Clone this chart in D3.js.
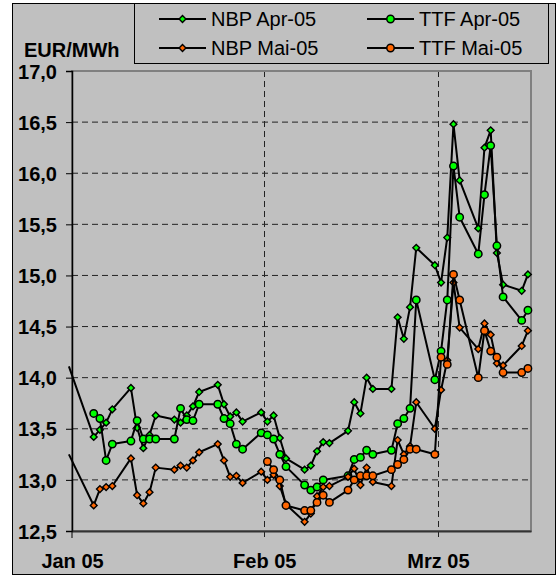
<!DOCTYPE html>
<html><head><meta charset="utf-8">
<script src="https://cdn.jsdelivr.net/npm/d3@7"></script>
<style>body{margin:0;background:#fff} svg{display:block}</style>
</head><body>
<svg id="c" width="560" height="579"></svg>
<script>
// ---- data ----
const dates = ["2004-12-31",
 "2005-01-04","2005-01-05","2005-01-06","2005-01-07","2005-01-10","2005-01-11","2005-01-12","2005-01-13","2005-01-14",
 "2005-01-17","2005-01-18","2005-01-19","2005-01-20","2005-01-21","2005-01-24","2005-01-25","2005-01-26","2005-01-27","2005-01-28","2005-01-31",
 "2005-02-01","2005-02-02","2005-02-03","2005-02-04","2005-02-07","2005-02-08","2005-02-09","2005-02-10","2005-02-11",
 "2005-02-14","2005-02-15","2005-02-16","2005-02-17","2005-02-18","2005-02-21","2005-02-22","2005-02-23","2005-02-24","2005-02-25","2005-02-28",
 "2005-03-01","2005-03-02","2005-03-03","2005-03-04","2005-03-07","2005-03-08","2005-03-09","2005-03-10","2005-03-11","2005-03-14","2005-03-15"];
const nbpApr = [14.11,
 13.42,13.49,13.56,13.69,13.90,13.51,13.31,13.44,13.63,13.59,13.56,13.63,13.72,13.86,13.93,13.74,13.62,13.66,13.57,13.66,
 13.57,13.63,13.41,13.21,13.10,13.14,13.28,13.37,13.36,13.48,13.76,13.65,14.00,13.89,13.89,14.59,14.38,14.69,15.27,15.10,
 14.93,15.37,16.48,15.93,15.46,16.25,16.42,15.22,14.91,14.85,15.01];
const ttfApr = [null,
 13.65,13.60,13.19,13.35,13.38,13.58,13.40,13.40,13.40,13.40,13.70,13.59,13.58,13.74,13.74,13.60,13.55,13.35,13.30,13.46,
 13.44,13.40,13.25,13.13,12.95,12.90,12.93,13.00,null,13.04,13.20,13.22,13.29,13.25,13.29,13.55,13.60,13.70,14.76,13.98,
 14.26,14.76,16.07,15.57,15.21,15.79,16.27,15.29,14.79,14.56,14.66];
const nbpMai = [13.25,
 12.75,12.91,12.93,12.94,13.21,12.85,12.77,12.88,13.12,13.10,13.14,13.12,13.19,13.27,13.35,13.19,13.03,13.04,12.97,13.08,
 13.00,13.05,12.94,12.76,12.59,12.67,12.84,12.93,12.94,13.03,13.11,12.95,13.12,12.98,12.94,13.39,13.25,13.33,13.76,13.50,
 13.88,14.17,14.93,14.49,14.28,14.53,14.42,14.14,14.12,14.31,14.46];
const ttfMai = [null,
 null,null,null,null,null,null,null,null,null,null,null,null,null,null,null,null,null,null,null,null,
 13.18,13.10,13.00,12.75,12.70,12.70,12.78,12.85,12.78,12.90,13.00,13.04,13.04,13.04,13.10,13.15,13.20,13.30,13.30,13.25,
 14.20,14.13,15.01,14.76,14.00,14.46,14.26,14.20,14.05,14.05,14.09];
const seriesNames = ["NBP Apr-05","TTF Apr-05","NBP Mai-05","TTF Mai-05"];
const seriesColors = ["#00ff00","#00ff00","#ff6600","#ff6600"];
const seriesMarkers = ["diamond","circle","diamond","circle"];
const xTickDates = ["2005-01-01","2005-02-01","2005-03-01"];
const xTickLabels = ["Jan 05","Feb 05","Mrz 05"];
const yTicks = [12.5,13.0,13.5,14.0,14.5,15.0,15.5,16.0,16.5,17.0];
const yTickLabels = ["12,5","13,0","13,5","14,0","14,5","15,0","15,5","16,0","16,5","17,0"];
const yUnit = "EUR/MWh";
const xDomain = ["2005-01-01","2005-03-16"];

// ---- drawing ----
const parse = d3.utcParse("%Y-%m-%d");
const svg = d3.select("#c");
const font = "'Liberation Sans', Arial, sans-serif";
const L = 72, R = 531, T = 71, B = 531;

svg.append("rect").attr("x",12.5).attr("y",3.5).attr("width",543).attr("height",571)
  .attr("fill","#c0c0c0").attr("stroke","#000").attr("stroke-width",1);

const x = d3.scaleUtc().domain(xDomain.map(parse)).range([L,R]);
const y = d3.scaleLinear().domain([12.5,17]).range([B,T]);
const mid = d => x(d3.utcHour.offset(d,12));

// horizontal gridlines
svg.append("g").selectAll("line").data(yTicks.slice(1,-1)).join("line")
  .attr("x1",L).attr("x2",R).attr("y1",d=>y(d)).attr("y2",d=>y(d))
  .attr("stroke","#222").attr("stroke-width",1).attr("stroke-dasharray","6,4");
// vertical gridlines (with tick extension)
svg.append("g").selectAll("line").data(xTickDates.slice(1).map(parse)).join("line")
  .attr("x1",d=>Math.round(x(d))+0.5).attr("x2",d=>Math.round(x(d))+0.5).attr("y1",T).attr("y2",B+7)
  .attr("stroke","#222").attr("stroke-width",1).attr("stroke-dasharray","6,4");

// plot border
svg.append("rect").attr("x",L).attr("y",T).attr("width",R-L).attr("height",B-T)
  .attr("fill","none").attr("stroke","#808080").attr("stroke-width",2);

// axes
const yAxis = d3.axisLeft(y).tickValues(yTicks).tickSize(6).tickFormat((d,i)=>yTickLabels[i]);
const gy = svg.append("g").attr("transform",`translate(${L},0)`).call(yAxis);
gy.select(".domain").attr("stroke","#000").attr("stroke-width",1.5);
gy.selectAll(".tick line").attr("stroke","#000").attr("stroke-width",1);
gy.selectAll("text").attr("x",-15).attr("dy","0.36em").attr("fill","#000")
  .style("font-family",font).style("font-size","20px").style("font-weight","bold");

const xAxis = d3.axisBottom(x).tickValues(xTickDates.map(parse)).tickSize(0).tickFormat((d,i)=>xTickLabels[i]);
const gx = svg.append("g").attr("transform",`translate(0,${B})`).call(xAxis);
gx.select(".domain").attr("stroke","#333").attr("stroke-width",2);
gx.selectAll("text").attr("y",23).attr("dy","0.71em").attr("fill","#000")
  .style("font-family",font).style("font-size","20px").style("font-weight","bold");
svg.append("line").attr("x1",L).attr("x2",L).attr("y1",B).attr("y2",B+7).attr("stroke","#000");

// y unit
svg.append("text").attr("x",24).attr("y",57).text(yUnit)
  .style("font-family",font).style("font-size","20px").style("font-weight","bold");

// series
const all = [nbpApr,ttfApr,nbpMai,ttfMai];
const diamond = h => `M0,${-h}L${h},0L0,${h}L${-h},0Z`;
const line = d3.line().x(d=>mid(d.date)).y(d=>y(d.v));
function marker(g, type, color){
  if(type==="diamond") g.append("path").attr("d",diamond(3.4)).attr("fill",color).attr("stroke","#000").attr("stroke-width",1.4);
  else g.append("circle").attr("r",3.7).attr("fill",color).attr("stroke","#000").attr("stroke-width",1.5);
}
const x0 = parse(xDomain[0]);
all.forEach((vals,si)=>{
  const pts = dates.map((s,i)=>({date:parse(s), v:vals[i]})).filter(p=>p.v!=null);
  const g = svg.append("g");
  g.append("path").datum(pts).attr("d",line).attr("fill","none").attr("stroke","#000").attr("stroke-width",2).attr("stroke-linejoin","round");
  pts.filter(p=>p.date>=x0).forEach(p=>{
    const m = g.append("g").attr("transform",`translate(${mid(p.date)},${y(p.v)})`);
    marker(m, seriesMarkers[si], seriesColors[si]);
  });
});

// legend
const lg = svg.append("g");
lg.append("rect").attr("x",134.5).attr("y",3.5).attr("width",414).attr("height",60)
  .attr("fill","#c0c0c0").attr("stroke","#000").attr("stroke-width",1);
const legPos = [[159,19],[367,19],[159,48],[367,48]];
seriesNames.forEach((n,i)=>{
  const [lx,ly] = legPos[i];
  lg.append("line").attr("x1",lx).attr("x2",lx+47).attr("y1",ly).attr("y2",ly).attr("stroke","#000").attr("stroke-width",2);
  const m = lg.append("g").attr("transform",`translate(${lx+23.5},${ly})`);
  marker(m, seriesMarkers[i], seriesColors[i]);
  lg.append("text").attr("x",lx+52).attr("y",ly).attr("dy","0.36em").text(n)
    .style("font-family",font).style("font-size","20px");
});
</script>
</body></html>
